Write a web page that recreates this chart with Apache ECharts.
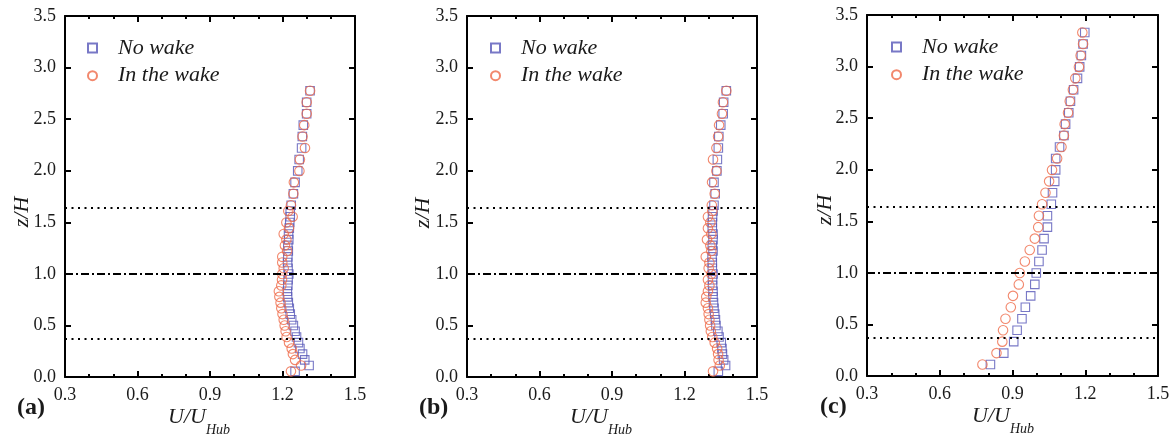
<!DOCTYPE html>
<html>
<head>
<meta charset="utf-8">
<script src="https://cdn.jsdelivr.net/npm/echarts@6/dist/echarts.min.js"></script>
<style>
html,body{margin:0;padding:0;background:#fff;}
#chart{width:1175px;height:437px;}
</style>
</head>
<body>
<div id="chart"></div>
<script>
// ---- data ----
var zFine = [0.055,0.111,0.166,0.222,0.277,0.333,0.388,0.444,0.5,0.555,0.61,0.666,0.721,0.777,0.832,0.888,0.943,0.999,1.054,1.11,1.165,1.221,1.276,1.332,1.387,1.443,1.498,1.554,1.609,1.665,1.776,1.887,1.998,2.109,2.22,2.331,2.442,2.553,2.664,2.775];
var zCoarse = [0.111,0.222,0.333,0.444,0.555,0.666,0.777,0.888,0.999,1.11,1.221,1.332,1.443,1.554,1.665,1.776,1.887,1.998,2.109,2.22,2.331,2.442,2.553,2.664,2.775,2.886,2.997,3.108,3.219,3.33];

var aNoWake = [1.252,1.31,1.292,1.283,1.272,1.266,1.258,1.252,1.245,1.238,1.232,1.228,1.224,1.221,1.22,1.222,1.223,1.226,1.223,1.221,1.222,1.224,1.222,1.226,1.225,1.228,1.23,1.232,1.232,1.236,1.245,1.252,1.263,1.269,1.279,1.282,1.286,1.30,1.30,1.314];
var aWake   = [1.235,1.277,1.252,1.243,1.238,1.227,1.217,1.213,1.209,1.205,1.2,1.195,1.192,1.187,1.185,1.195,1.198,1.199,1.205,1.199,1.199,1.219,1.21,1.216,1.205,1.227,1.216,1.242,1.224,1.235,1.245,1.247,1.27,1.272,1.293,1.283,1.29,1.30,1.30,1.314];

var bNoWake = [1.34,1.37,1.362,1.357,1.355,1.352,1.343,1.338,1.33,1.328,1.325,1.322,1.32,1.318,1.318,1.316,1.316,1.318,1.315,1.315,1.314,1.318,1.315,1.318,1.318,1.315,1.315,1.316,1.318,1.322,1.327,1.322,1.334,1.336,1.34,1.342,1.35,1.36,1.362,1.373];
var bWake   = [1.318,1.346,1.341,1.339,1.335,1.325,1.315,1.309,1.306,1.303,1.30,1.297,1.288,1.29,1.297,1.303,1.297,1.311,1.30,1.303,1.288,1.311,1.307,1.293,1.311,1.297,1.307,1.297,1.315,1.313,1.325,1.314,1.332,1.318,1.332,1.339,1.343,1.355,1.359,1.373];

var cNoWake = [0.809,0.864,0.905,0.919,0.939,0.953,0.975,0.992,0.998,1.009,1.022,1.03,1.044,1.044,1.06,1.065,1.074,1.078,1.078,1.094,1.112,1.119,1.132,1.139,1.152,1.168,1.177,1.184,1.191,1.198];
var cWake   = [0.776,0.834,0.858,0.861,0.871,0.893,0.902,0.926,0.93,0.951,0.971,0.992,1.006,1.009,1.022,1.036,1.051,1.063,1.084,1.102,1.112,1.115,1.129,1.136,1.149,1.159,1.174,1.181,1.191,1.188];

var dottedLevels = [1.64, 0.37];
var dashDotLevels = [1.0];
var seriesNames = ['No wake', 'In the wake'];
var panelLabels = ['(a)', '(b)', '(c)'];
var xTicks = {min: 0.3, max: 1.5, step: 0.3};
var yTicks = {min: 0, max: 3.5, step: 0.5};

// ---- layout / style ----
var FONT = 'Liberation Serif';
var BLUE = '#5656b8';
var RED = '#ef6a48';
var TXT = '#1a1a1a';

var panels = [
  {grid:{left:65, top:16, width:290, height:361}, noWake:aNoWake, wake:aWake, z:zFine,
   legend:{left:82, top:32}, yTitle:[22,212], xTitle:[168,417], label:[17,408]},
  {grid:{left:467, top:16, width:290, height:361}, noWake:bNoWake, wake:bWake, z:zFine,
   legend:{left:485, top:32}, yTitle:[423,213], xTitle:[570,417], label:[419,408]},
  {grid:{left:867, top:15, width:291, height:361}, noWake:cNoWake, wake:cWake, z:zCoarse,
   legend:{left:886, top:31}, yTitle:[825,210], xTitle:[972,416], label:[820,407]}
];

function pairs(u, z){ var out=[]; for(var i=0;i<u.length;i++){ out.push([u[i], z[i]]); } return out; }

var grids=[], xAxes=[], yAxes=[], series=[], legends=[], graphics=[];
var lineCol = '#000';

panels.forEach(function(p, i){
  grids.push(p.grid);
  var common = {
    gridIndex:i, type:'value', splitLine:{show:false}, minorSplitLine:{show:false},
    axisLine:{onZero:false, lineStyle:{color:lineCol, width:2}},
    axisTick:{inside:true, length:6, lineStyle:{color:lineCol, width:2}}
  };
  var xb = Object.assign({}, common, {
    position:'bottom', min:xTicks.min, max:xTicks.max, interval:xTicks.step,
    minorTick:{show:true, splitNumber:3, length:3, lineStyle:{color:lineCol, width:2}},
    axisLabel:{fontFamily:FONT, fontSize:18, color:TXT, margin:9, formatter:function(v){return v.toFixed(1);}}
  });
  var xt = Object.assign({}, xb, {position:'top', axisLabel:{show:false}});
  var yl = Object.assign({}, common, {
    position:'left', min:yTicks.min, max:yTicks.max, interval:yTicks.step,
    axisLabel:{fontFamily:FONT, fontSize:18, color:TXT, margin:9, formatter:function(v){return v.toFixed(1);}}
  });
  var yr = Object.assign({}, yl, {position:'right', axisLabel:{show:false}});
  xAxes.push(xb, xt);
  yAxes.push(yl, yr);
  var xi = 2*i, yi = 2*i;

  var ml = [];
  dottedLevels.forEach(function(v){ ml.push({yAxis:v, lineStyle:{type:[2,4.5], width:2, color:'#000', cap:'butt'}}); });
  dashDotLevels.forEach(function(v){ ml.push({yAxis:v, lineStyle:{type:[8,3,2,3], width:2, color:'#000', cap:'butt'}}); });
  series.push({
    type:'line', data:[], xAxisIndex:xi, yAxisIndex:yi, silent:true,
    markLine:{symbol:['none','none'], silent:true, label:{show:false}, data:ml, animation:false}
  });
  series.push({
    name:seriesNames[0], type:'scatter', xAxisIndex:xi, yAxisIndex:yi,
    symbol:'rect', symbolSize:8.5,
    itemStyle:{color:'rgba(255,255,255,0)', borderColor:BLUE, borderWidth:1.1},
    data:pairs(p.noWake, p.z), z:3
  });
  series.push({
    name:seriesNames[1], type:'scatter', xAxisIndex:xi, yAxisIndex:yi,
    symbol:'circle', symbolSize:9.5,
    itemStyle:{color:'rgba(255,255,255,0)', borderColor:RED, borderWidth:1.1},
    data:pairs(p.wake, p.z), z:4
  });
  legends.push({
    left:p.legend.left, top:p.legend.top, orient:'vertical', itemWidth:9, itemHeight:9, itemGap:5.7,
    selectedMode:false, data:seriesNames,
    textStyle:{fontFamily:FONT, fontStyle:'italic', fontSize:22, lineHeight:22, color:TXT, padding:[0,0,0,16]}
  });
  graphics.push({
    type:'text', x:p.yTitle[0], y:p.yTitle[1], rotation:Math.PI/2,
    style:{text:'z/H', font:'italic 22px "Liberation Serif"', fill:TXT, textAlign:'center', textVerticalAlign:'middle'}
  });
  graphics.push({
    type:'text', x:p.xTitle[0], y:p.xTitle[1],
    style:{text:'U/U', font:'italic 22px "Liberation Serif"', fill:TXT, textAlign:'left', textVerticalAlign:'middle'}
  });
  graphics.push({
    type:'text', x:p.xTitle[0]+38, y:p.xTitle[1]+13,
    style:{text:'Hub', font:'italic 14px "Liberation Serif"', fill:TXT, textAlign:'left', textVerticalAlign:'middle'}
  });
  graphics.push({
    type:'text', x:p.label[0], y:p.label[1],
    style:{text:panelLabels[i], font:'bold 24px "Liberation Serif"', fill:TXT, textAlign:'left', textVerticalAlign:'middle'}
  });
});

var chart = echarts.init(document.getElementById('chart'), null, {renderer:'canvas'});
chart.setOption({
  animation:false,
  backgroundColor:'#fff',
  grid:grids, xAxis:xAxes, yAxis:yAxes, series:series, legend:legends, graphic:graphics
});
</script>
</body>
</html>
